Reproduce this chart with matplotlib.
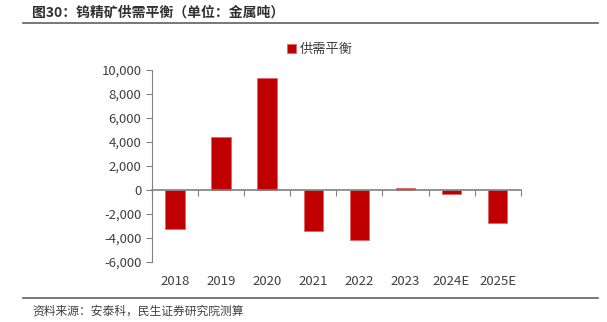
import matplotlib.pyplot as plt
import matplotlib.transforms as mtransforms
import numpy as np

plt.rcParams['font.family'] = ['Noto Sans CJK SC', 'DejaVu Sans']

years = ['2018', '2019', '2020', '2021', '2022', '2023', '2024E', '2025E']
balance = [-3250, 4450, 9300, -3400, -4200, 150, -350, -2780]

bar_color = '#C00000'
axis_color = '#808080'
text_color = '#404040'

fig = plt.figure(figsize=(6.07, 3.22), dpi=100)
ax = fig.add_axes([0.250, 0.186, 0.608, 0.597])

x = np.arange(len(years))
ax.bar(x, balance, width=0.42, color=bar_color, edgecolor='#E06060', linewidth=0.5,
       label='供需平衡', zorder=2)

ax.set_xlim(-0.5, len(years) - 0.5)
ax.set_ylim(-6000, 10000)
ax.set_yticks(np.arange(-6000, 10001, 2000))
ax.set_yticklabels([f'{v:,}' for v in range(-6000, 10001, 2000)])

for s in ['top', 'right']:
    ax.spines[s].set_visible(False)
ax.spines['left'].set_color(axis_color)
ax.spines['bottom'].set_color(axis_color)
ax.spines['bottom'].set_position(('data', 0))
ax.spines['bottom'].set_linewidth(1.2)

ax.set_xticks(np.arange(-0.5, len(years)))
ax.set_xticklabels([])
ax.tick_params(axis='x', direction='out', length=4, color=axis_color)
ax.tick_params(axis='y', direction='out', length=4, color=axis_color,
               labelsize=9.5, labelcolor=text_color)

trans = mtransforms.blended_transform_factory(ax.transData, ax.transAxes)
for xi, lab in zip(x, years):
    ax.text(xi, -0.065, lab, transform=trans, ha='center', va='top',
            fontsize=9.5, color=text_color)

ax.legend(loc='upper center', bbox_to_anchor=(0.455, 1.2), frameon=False,
          fontsize=9.5, handlelength=0.7, handleheight=0.7, handletextpad=0.3,
          labelcolor=text_color)

# title and source
fig.text(0.053, 0.962, '图30：钨精矿供需平衡（单位：金属吨）', fontsize=10,
         fontweight='bold', color='#303030', va='center')
fig.add_artist(plt.Line2D([0.038, 0.985], [0.93, 0.93], color='#606060', lw=1.2))
fig.add_artist(plt.Line2D([0.038, 0.985], [0.075, 0.075], color='#606060', lw=1.2))
fig.text(0.053, 0.033, '资料来源：安泰科，民生证券研究院测算', fontsize=8.5,
         color='#404040', va='center')

fig.savefig('out.png', dpi=100)
